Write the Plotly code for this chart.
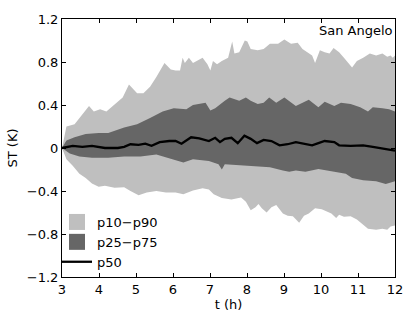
import plotly.graph_objects as go

# ---- data ----
t_p90 = [3.0, 3.06, 3.12, 3.34, 3.47, 3.60, 3.73, 3.86, 4.03, 4.20, 4.46, 4.64, 4.81, 5.03, 5.20, 5.38,
         5.55, 5.77, 5.94, 6.07, 6.19, 6.26, 6.32, 6.43, 6.54, 6.80, 6.93, 7.01, 7.08, 7.19, 7.32, 7.49,
         7.60, 7.66, 7.79, 7.94, 8.01, 8.10, 8.29, 8.45, 8.62, 8.84, 9.01, 9.19, 9.37, 9.50, 9.63, 9.76,
         9.84, 9.97, 10.10, 10.23, 10.34, 10.49, 10.62, 10.75, 10.84, 10.97, 11.14, 11.32, 11.49, 11.66,
         11.79, 11.88, 11.94, 12.0]
v_p90 = [0.0, 0.12, 0.20, 0.22, 0.28, 0.33, 0.39, 0.34, 0.36, 0.34, 0.42, 0.47, 0.59, 0.51, 0.51, 0.57,
         0.66, 0.79, 0.73, 0.72, 0.72, 0.84, 0.79, 0.84, 0.79, 0.84, 0.78, 0.72, 0.81, 0.78, 0.81, 0.84,
         0.99, 0.88, 0.89, 1.00, 0.99, 0.92, 0.91, 0.92, 0.97, 0.97, 1.01, 0.97, 0.98, 0.92, 0.89, 0.86,
         0.79, 0.91, 0.89, 0.88, 0.93, 0.89, 0.84, 0.78, 0.75, 0.81, 0.84, 0.88, 0.86, 0.88,
         0.85, 0.86, 0.84, 0.86]

t_p75 = [3.0, 3.12, 3.34, 3.64, 3.99, 4.25, 4.68, 5.03, 5.38, 5.72, 6.02, 6.36, 6.54, 6.88, 7.01, 7.14,
         7.40, 7.53, 7.79, 7.97, 8.10, 8.29, 8.45, 8.60, 8.79, 9.01, 9.32, 9.50, 9.67, 9.93, 10.10, 10.36,
         10.54, 10.80, 11.06, 11.27, 11.40, 11.66, 11.84, 12.0]
v_p75 = [0.0, 0.07, 0.10, 0.13, 0.14, 0.14, 0.19, 0.22, 0.28, 0.34, 0.37, 0.36, 0.40, 0.42, 0.35, 0.37,
         0.44, 0.47, 0.44, 0.47, 0.44, 0.41, 0.42, 0.47, 0.42, 0.47, 0.39, 0.42, 0.45, 0.38, 0.43, 0.39,
         0.42, 0.41, 0.38, 0.34, 0.38, 0.37, 0.36, 0.34]

t_p50 = [3.0, 3.29, 3.55, 3.81, 4.16, 4.51, 4.68, 4.85, 5.07, 5.25, 5.42, 5.64, 5.90, 6.07, 6.23, 6.49,
         6.71, 6.97, 7.14, 7.27, 7.40, 7.58, 7.75, 7.93, 8.10, 8.27, 8.45, 8.66, 8.88, 9.10, 9.32, 9.58,
         9.76, 9.93, 10.10, 10.36, 10.49, 10.80, 11.14, 11.40, 11.66, 11.84, 12.0]
v_p50 = [0.0, 0.02, 0.01, 0.02, 0.0, 0.0, 0.01, 0.035, 0.03, 0.04, 0.02, 0.055, 0.065, 0.065, 0.04, 0.10,
         0.09, 0.065, 0.095, 0.055, 0.085, 0.095, 0.045, 0.115, 0.085, 0.045, 0.075, 0.065, 0.025, 0.035, 0.055, 0.04,
         0.025, 0.045, 0.065, 0.055, 0.025, 0.02, 0.025, 0.01, -0.005, -0.01, -0.025]

t_p25 = [3.0, 3.21, 3.47, 3.81, 4.25, 4.68, 5.12, 5.55, 6.03, 6.28, 6.54, 6.97, 7.23, 7.32, 7.40, 7.75,
         8.19, 8.62, 8.97, 9.14, 9.32, 9.58, 9.93, 10.36, 10.67, 10.84, 11.14, 11.49, 11.75, 12.0]
v_p25 = [0.0, -0.05, -0.08, -0.09, -0.09, -0.08, -0.08, -0.06, -0.11, -0.135, -0.105, -0.12, -0.15, -0.20, -0.15, -0.16,
         -0.17, -0.18, -0.21, -0.22, -0.21, -0.22, -0.195, -0.22, -0.24, -0.28, -0.30, -0.31, -0.335, -0.31]

t_p10 = [3.0, 3.12, 3.29, 3.47, 3.64, 3.81, 3.99, 4.16, 4.42, 4.68, 4.85, 5.07, 5.29, 5.55, 5.81, 6.07,
         6.28, 6.54, 6.80, 6.97, 7.10, 7.32, 7.58, 7.84, 7.97, 8.10, 8.23, 8.31, 8.40, 8.53, 8.66, 8.79,
         8.97, 9.10, 9.24, 9.41, 9.54, 9.67, 9.84, 10.02, 10.28, 10.41, 10.49, 10.62, 10.80, 10.97, 11.14,
         11.27, 11.49, 11.66, 11.79, 11.88, 12.0]
v_p10 = [0.0, -0.105, -0.165, -0.24, -0.28, -0.33, -0.36, -0.35, -0.37, -0.365, -0.40, -0.44, -0.415, -0.40, -0.415, -0.415,
         -0.43, -0.395, -0.375, -0.385, -0.43, -0.465, -0.48, -0.46, -0.50, -0.58, -0.55, -0.52, -0.56, -0.60, -0.55, -0.53,
         -0.61, -0.63, -0.635, -0.695, -0.63, -0.61, -0.56, -0.57, -0.61, -0.65, -0.62, -0.64, -0.635, -0.665, -0.71,
         -0.75, -0.76, -0.75, -0.76, -0.73, -0.72]

x_ticks = [3, 4, 5, 6, 7, 8, 9, 10, 11, 12]
y_ticks = [-1.2, -0.8, -0.4, 0, 0.4, 0.8, 1.2]
y_tick_text = ["\u22121.2", "\u22120.8", "\u22120.4", "0", "0.4", "0.8", "1.2"]
labels = ["p10\u2212p90", "p25\u2212p75", "p50"]
station = "San Angelo"

LIGHT = "#bfbfbf"
DARK = "#666666"
FONT = dict(family="DejaVu Sans", size=13, color="black")

fig = go.Figure()
fig.add_trace(go.Scatter(x=t_p90 + t_p10[::-1], y=v_p90 + v_p10[::-1], fill="toself",
                         fillcolor=LIGHT, mode="lines", line=dict(width=0), showlegend=False,
                         hoverinfo="skip"))
fig.add_trace(go.Scatter(x=t_p75 + t_p25[::-1], y=v_p75 + v_p25[::-1], fill="toself",
                         fillcolor=DARK, mode="lines", line=dict(width=0), showlegend=False,
                         hoverinfo="skip"))
fig.add_trace(go.Scatter(x=t_p50, y=v_p50, mode="lines", line=dict(color="black", width=2.3),
                         showlegend=False))
# legend entries
fig.add_trace(go.Scatter(x=[None], y=[None], mode="markers", name=labels[0],
                         marker=dict(symbol="square", size=16, color=LIGHT)))
fig.add_trace(go.Scatter(x=[None], y=[None], mode="markers", name=labels[1],
                         marker=dict(symbol="square", size=16, color=DARK)))
fig.add_trace(go.Scatter(x=[None], y=[None], mode="lines", name=labels[2],
                         line=dict(color="black", width=2.3)))

axis_common = dict(showline=True, linecolor="black", linewidth=1, mirror="allticks",
                   ticks="inside", ticklen=4, tickcolor="black", showgrid=False, zeroline=False,
                   tickfont=FONT)
fig.update_xaxes(range=[3, 12], tickvals=x_ticks, title=dict(text="t (h)", font=FONT, standoff=4),
                 **axis_common)
fig.update_yaxes(range=[-1.2, 1.2], tickvals=y_ticks, ticktext=y_tick_text,
                 title=dict(text="ST (K)", font=FONT, standoff=6), **axis_common)

fig.add_annotation(x=1.0, xref="paper", xanchor="right", y=1.095, yref="y", yanchor="middle",
                   text=station, showarrow=False, font=FONT)

fig.update_layout(width=415, height=322, margin=dict(l=57, r=12, t=12, b=38),
                  paper_bgcolor="white", plot_bgcolor="white", font=FONT,
                  legend=dict(x=-0.015, y=0.0, xanchor="left", yanchor="bottom", bgcolor="rgba(0,0,0,0)",
                              font=FONT, itemwidth=30, tracegroupgap=0))

fig.write_html("out.html", config={"displayModeBar": False},
               post_script="document.body.style.margin='0px';document.body.style.padding='0px';")
